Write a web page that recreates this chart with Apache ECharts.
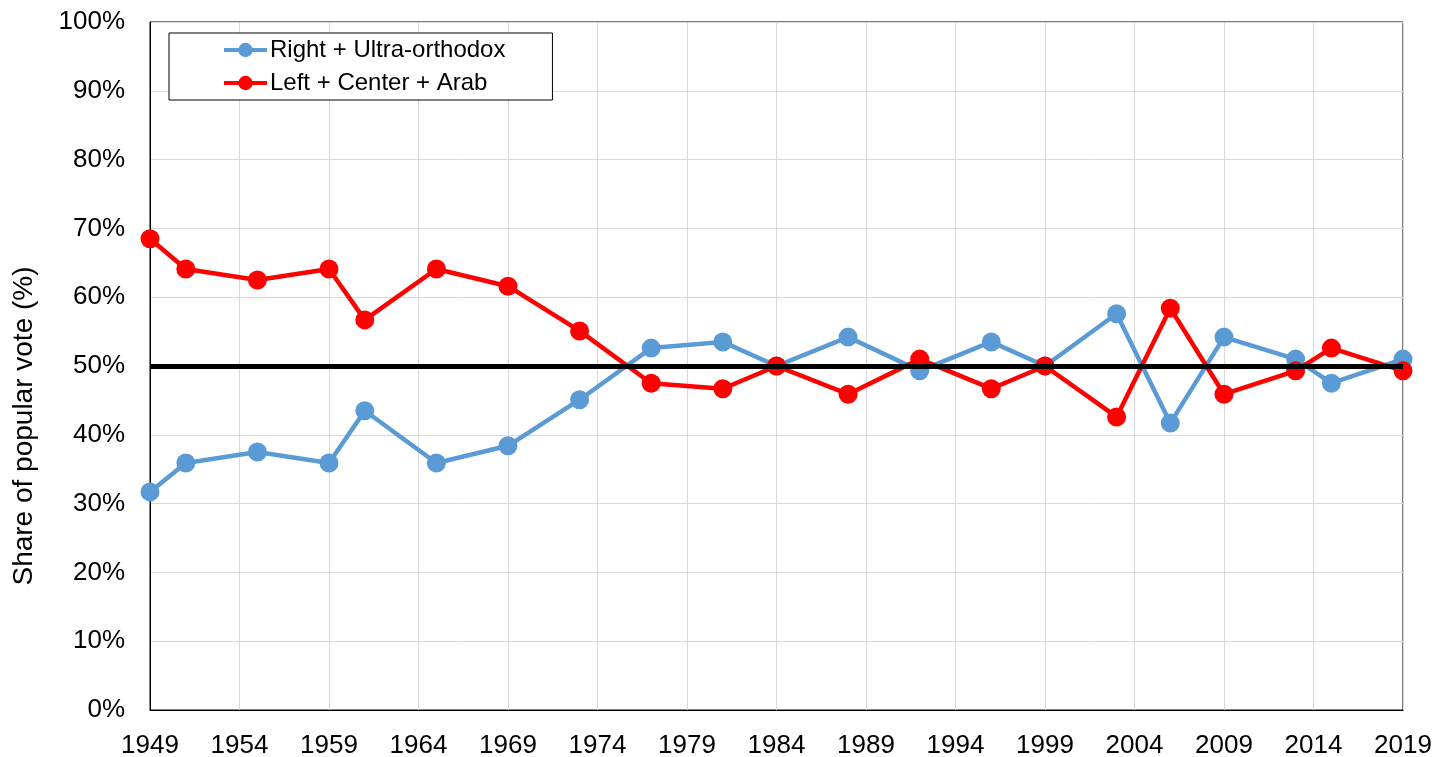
<!DOCTYPE html>
<html>
<head>
<meta charset="utf-8">
<script src="https://cdn.jsdelivr.net/npm/echarts@6/dist/echarts.min.js"></script>
<style>
  html, body { margin: 0; padding: 0; background: #fff; }
  #chart { width: 1438px; height: 757px; }
</style>
</head>
<body>
<div id="chart"></div>
<script>
// election years
const years = [1949, 1951, 1955, 1959, 1961, 1965, 1969, 1973, 1977, 1981, 1984,
  1988, 1992, 1996, 1999, 2003, 2006, 2009, 2013, 2015, 2019];
// share of popular vote (%)
const rightUltra = [31.7, 35.9, 37.5, 35.9, 43.5, 35.9, 38.4, 45.1, 52.6, 53.5, 50.0,
  54.2, 49.3, 53.5, 50.0, 57.6, 41.7, 54.2, 51.0, 47.5, 51.0];
const leftCenterArab = [68.5, 64.1, 62.5, 64.1, 56.7, 64.1, 61.6, 55.1, 47.5, 46.7, 50.0,
  45.9, 51.0, 46.7, 50.0, 42.6, 58.4, 45.9, 49.3, 52.6, 49.3];
const majority = 50;

const font = '"Liberation Sans", Arial, sans-serif';

const chart = echarts.init(document.getElementById('chart'));

chart.setOption({
  animation: false,
  textStyle: {fontFamily: font},
  grid: {
    left: 150, right: 35, top: 22, bottom: 47,
    outerBoundsMode: 'none',
    containLabel: false,
    show: true,
    borderColor: '#000',
    borderWidth: 1
  },
  legend: {
    orient: 'vertical',
    left: 169,
    top: 33,
    padding: [5, 47, 5, 53],
    itemWidth: 43,
    itemHeight: 18,
    itemGap: 9,
    borderColor: '#000',
    borderWidth: 1,
    backgroundColor: '#fff',
    lineStyle: {width: 4},
    textStyle: {fontSize: 24, lineHeight: 24, color: '#000', fontFamily: font, padding: [0, 0, 0, -2]},
    data: ['Right + Ultra-orthodox', 'Left + Center + Arab']
  },
  xAxis: {
    type: 'value',
    min: 1949,
    max: 2019,
    interval: 5,
    axisLine: {show: true, lineStyle: {color: '#000', width: 1}},
    axisTick: {show: false},
    axisLabel: {fontSize: 26, color: '#000', margin: 23, fontFamily: font, formatter: v => String(v)},
    splitLine: {show: true, lineStyle: {color: '#d9d9d9', width: 1}}
  },
  yAxis: {
    type: 'value',
    min: 0,
    max: 100,
    interval: 10,
    name: 'Share of popular vote (%)',
    nameLocation: 'middle',
    nameGap: 112,
    nameTextStyle: {fontSize: 28, color: '#000', fontFamily: font, padding: [0, 120, 0, 0]},
    axisLine: {show: true, lineStyle: {color: '#000', width: 1}},
    axisTick: {show: false},
    axisLabel: {fontSize: 26, color: '#000', margin: 25, formatter: '{value}%', fontFamily: font},
    splitLine: {show: true, lineStyle: {color: '#d9d9d9', width: 1}}
  },
  series: [
    {
      name: 'Right + Ultra-orthodox',
      type: 'line',
      z: 2,
      data: years.map((y, i) => [y, rightUltra[i]]),
      symbol: 'circle',
      symbolSize: 19,
      lineStyle: {color: '#5b9bd5', width: 4.5},
      itemStyle: {color: '#5b9bd5'},
      markLine: {
        silent: true,
        symbol: 'none',
        label: {show: false},
        lineStyle: {color: '#000', width: 5, type: 'solid'},
        data: [{yAxis: majority}]
      }
    },
    {
      name: 'Left + Center + Arab',
      type: 'line',
      z: 3,
      data: years.map((y, i) => [y, leftCenterArab[i]]),
      symbol: 'circle',
      symbolSize: 19,
      lineStyle: {color: '#ff0000', width: 4.5},
      itemStyle: {color: '#ff0000'}
    }
  ]
});
</script>
</body>
</html>
